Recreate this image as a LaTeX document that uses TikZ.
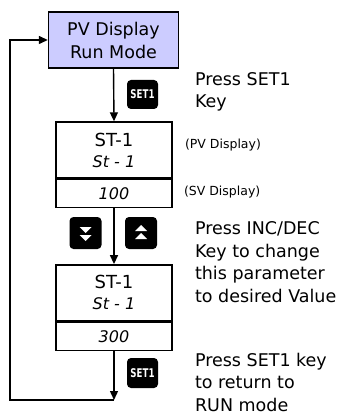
\documentclass[tikz,border=0pt]{standalone}
\usepackage{fontspec}
\usepackage{graphicx}
\setmainfont{DejaVu Sans}
\newfontfamily\segfont{DejaVu Sans}
\usetikzlibrary{positioning, arrows.meta}
\definecolor{runfill}{RGB}{204,204,255}
\newcommand{\segtext}[1]{{\segfont\itshape\fontsize{16}{21}\selectfont #1}}

\begin{document}
\begin{tikzpicture}[x=1pt, y=-1pt, >={Triangle[width=8pt,length=9pt]},
    line width=1.4pt,
    mybox/.style={draw=black, line width=1.4pt, minimum width=116pt, inner sep=0pt, align=center},
    keybox/.style={fill=black, rounded corners=4pt, inner sep=0pt, text=white, font=\bfseries\fontsize{12}{12}\selectfont},
    note/.style={anchor=west, align=left, font=\fontsize{17.5}{22.5}\selectfont},
    small/.style={anchor=west, font=\fontsize{12.5}{14}\selectfont},
    seg/.style={font=\segfont\itshape\fontsize{16}{16}\selectfont}]
  \useasboundingbox (0,0) rectangle (340,419);

  % main chain
  \node [mybox, fill=runfill, minimum width=130pt, minimum height=56pt,
         font=\fontsize{17.5}{23}\selectfont] (run) at (113.5,40) {PV Display\\Run Mode};
  \node [mybox, minimum height=56pt, font=\fontsize{18}{21}\selectfont] (st1) at (114,150)
        {ST-1\\\segtext{St - 1}};
  \node [mybox, minimum height=28pt, below=0pt of st1, seg] (sv1) {100};
  \node [mybox, minimum height=56pt, below=56pt of sv1, font=\fontsize{18}{21}\selectfont] (st2)
        {ST-1\\\segtext{St - 1}};
  \node [mybox, minimum height=28pt, below=0pt of st2, seg] (sv2) {300};

  % keys
  \node [keybox, minimum width=31pt, minimum height=29pt] (set1a) at (142.5,94.5) {\scalebox{0.72}[1]{SET1}};
  \node [keybox, minimum width=32pt, minimum height=32pt] (dec) at (85.5,233) {};
  \node [keybox, minimum width=32pt, minimum height=32pt] (inc) at (141,233) {};
  \fill [white] ([xshift=-6pt,yshift=6pt]dec.center) -- ++(12pt,0) -- ++(-6pt,-6pt) -- cycle
                ([xshift=-6pt,yshift=-2pt]dec.center) -- ++(12pt,0) -- ++(-6pt,-6pt) -- cycle;
  \fill [white] ([xshift=-6pt,yshift=-6pt]inc.center) -- ++(12pt,0) -- ++(-6pt,6pt) -- cycle
                ([xshift=-6pt,yshift=2pt]inc.center) -- ++(12pt,0) -- ++(-6pt,6pt) -- cycle;
  \node [keybox, minimum width=31pt, minimum height=30pt] (set1b) at (142.5,373) {\scalebox{0.72}[1]{SET1}};

  % texts
  \node [note] (t1) at (191,92) {Press SET1\\Key};
  \node [small] (pvlab) at (181,145) {(PV Display)};
  \node [small] (svlab) at (180,192) {(SV Display)};
  \node [note] (t2) at (191,262) {Press INC/DEC\\Key to change\\this parameter\\to desired Value};
  \node [note] (t3) at (191,382) {Press SET1 key\\to return to\\RUN mode};

  \coordinate (turn) at (114,400);
  \coordinate (back) at (10,400);

  \draw [->] (run.south) -- (st1.north);
  \draw [->] (sv1.south) -- (st2.north);
  \draw [->] (sv2.south) -- (turn);
  \draw [->] (turn) -- (back) |- (run.west);
\end{tikzpicture}
\end{document}
